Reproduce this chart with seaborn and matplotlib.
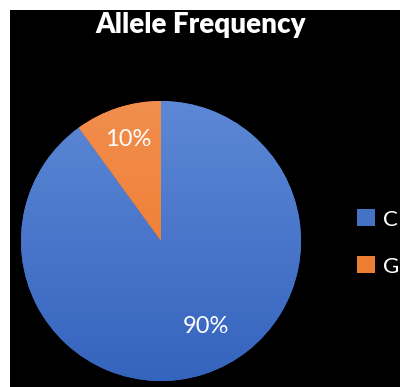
import numpy as np
import matplotlib
matplotlib.use("Agg")
import matplotlib.pyplot as plt
from matplotlib.colors import LinearSegmentedColormap
from matplotlib.patches import Patch
import seaborn as sns

alleles = ["C", "G"]
freq = [90, 10]
colors = ["#4472C4", "#ED7D31"]
grad = [("#5D88D6", "#3564BE"), ("#F28E4E", "#EC7424")]

sns.set_style("dark")
plt.rcParams['font.family'] = ['Lato', 'DejaVu Sans']

W, H = 400, 387
fig = plt.figure(figsize=(W / 100, H / 100), dpi=100)
fig.patch.set_facecolor("white")

# black chart area (small white border top/left like the screenshot)
bg = fig.add_axes([10 / W, 0, 390 / W, 377 / H])
bg.set_facecolor("black")
bg.set_xticks([])
bg.set_yticks([])
for s in bg.spines.values():
    s.set_visible(False)

cx, cy, r = 161, H - 241, 140
ax = fig.add_axes([(cx - r) / W, (cy - r) / H, 2 * r / W, 2 * r / H])
ax.set_facecolor("none")
wedges, texts, autotexts = ax.pie(freq, colors=colors, startangle=90, counterclock=False,
                                  autopct="%d%%", pctdistance=0.76,
                                  wedgeprops=dict(linewidth=0),
                                  textprops=dict(color="white", fontsize=17))
ax.set_xlim(-1, 1)
ax.set_ylim(-1, 1)
ax.axis("off")

# vertical gradient fill clipped to each wedge
yy = np.linspace(0, 1, 256).reshape(-1, 1)
for w, (top, bot) in zip(wedges, grad):
    cm = LinearSegmentedColormap.from_list("g", [bot, top])
    im = ax.imshow(yy, cmap=cm, extent=(-1, 1, -1, 1), origin="lower", aspect="auto", zorder=1.5)
    im.set_clip_path(w)
    w.set_zorder(1)
for t in autotexts:
    t.set_zorder(3)

# Excel-style placement of big slice label
a = np.deg2rad(-62)
autotexts[0].set_position((0.69 * np.cos(a), 0.69 * np.sin(a)))

fig.text(201 / W, 1 - 25 / H, "Allele Frequency", color="white", fontsize=20,
         fontweight="heavy", ha="center", va="center")

handles = [Patch(facecolor=c, edgecolor="none") for c in colors]
fig.legend(handles, alleles, loc="center left", bbox_to_anchor=(357 / W, 1 - 243 / H),
           frameon=False, labelcolor="white", fontsize=16, handlelength=0.8, handleheight=0.8,
           handletextpad=0.35, labelspacing=1.2, borderpad=0, borderaxespad=0)

fig.savefig("out.png", dpi=100, facecolor=fig.get_facecolor())
